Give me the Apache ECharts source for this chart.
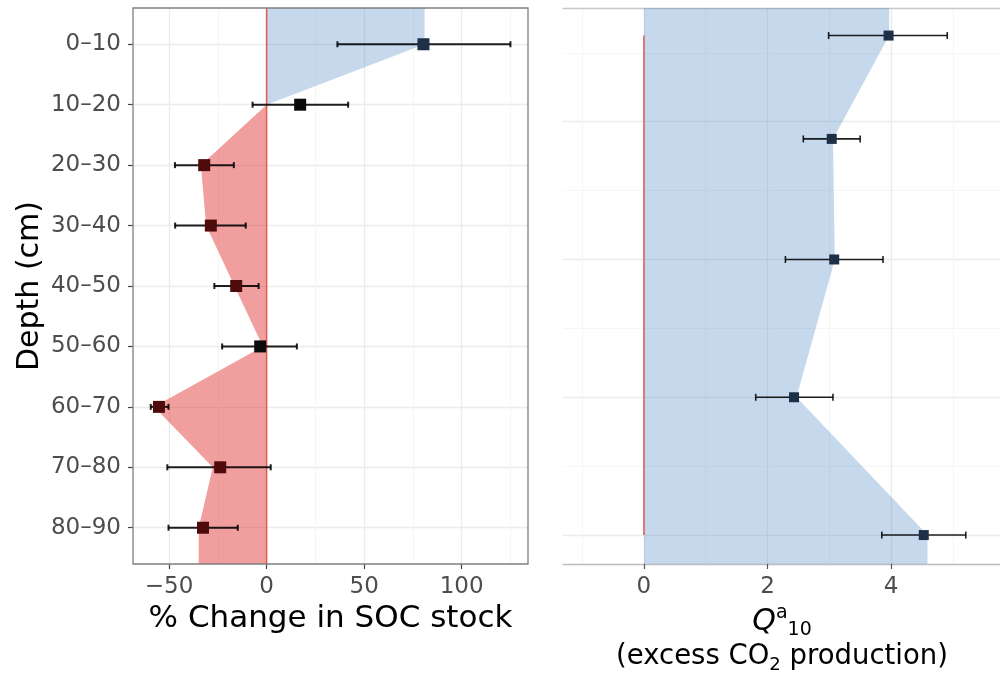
<!DOCTYPE html>
<html>
<head>
<meta charset="utf-8">
<title>SOC change and Q10 by depth</title>
<script src="https://cdn.jsdelivr.net/npm/echarts@6/dist/echarts.min.js"></script>
<style>
html, body { margin: 0; padding: 0; background: #fff; }
#chart { width: 1000px; height: 674px; }
</style>
</head>
<body>
<div id="chart"></div>
<script>
//*************** data *************************
var depthLabels = ['0–10', '10–20', '20–30', '30–40', '40–50', '50–60', '60–70', '70–80', '80–90'];
var depthIdx = depthLabels.map(function (d, i) { return i; });

// left panel: % change in SOC stock
var socChange = [80.4, 17.2, -32.0, -28.6, -15.6, -3.3, -55.2, -23.8, -32.6];
var socLow = [36.3, -7.2, -47.0, -46.9, -26.8, -22.8, -59.4, -50.9, -50.3];
var socHigh = [125.0, 41.8, -16.8, -10.7, -4.1, 15.5, -50.3, 2.1, -14.8];
var socBand = [81.0, 0, -33.7, -31.0, -16.5, -1.9, -57.7, -27.6, -34.8];
var socTicks = [-50, 0, 50, 100];
var socMinorTicks = [-25, 25, 75, 125];

// right panel: Q10 (excess CO2 production)
var q10Pos = [-0.25, 1.25, 3, 5, 7];
var q10 = [3.96, 3.04, 3.08, 2.43, 4.53];
var q10Low = [2.99, 2.58, 2.29, 1.81, 3.85];
var q10High = [4.91, 3.50, 3.87, 3.06, 5.21];
var q10Band = [3.97, 3.06, 3.09, 2.47, 4.59];
var q10Ticks = [0, 2, 4];
var q10MinorTicks = [-1, 1, 3, 5];
var q10Grid = [1, 3, 5, 7];
var q10MinorGrid = [0, 2, 4, 6];

//*************** axis ranges ******************
var socX = [-68.5, 134];
var socY = [-0.6, 8.6];
var q10X = [-1.31, 5.78];
var q10Y = [-0.65, 7.42];

var FONT = 'DejaVu Sans, Liberation Sans, sans-serif';
var BLUE_FILL = 'rgba(89,144,201,0.35)';
var RED_FILL = 'rgba(225,62,62,0.5)';
var ZERO_LINE = '#e35a50';
var MAJOR = '#ebebeb';
var MINOR = '#f5f5f5';

//*************** helpers **********************
// split the band outline into runs of one sign, closed back onto x = 0
function bandRuns(band, pos, lo, hi) {
    var v = [[band[0], lo]];
    for (var i = 0; i < band.length; i++) v.push([band[i], pos[i]]);
    v.push([band[band.length - 1], hi]);
    var runs = [];
    var cur = [[0, lo]];
    for (var k = 0; k < v.length; k++) {
        var a = v[k];
        if (k > 0) {
            var b = v[k - 1];
            if (b[0] * a[0] < 0) {
                var t = b[0] / (b[0] - a[0]);
                var yc = b[1] + t * (a[1] - b[1]);
                cur.push([0, yc]);
                runs.push(cur);
                cur = [[0, yc]];
            }
        }
        cur.push(a);
        if (a[0] === 0 && k > 0 && k < v.length - 1) {
            runs.push(cur);
            cur = [[0, a[1]]];
        }
    }
    cur.push([0, hi]);
    runs.push(cur);
    return runs;
}

function bandRender(band, pos, lo, hi) {
    var runs = bandRuns(band, pos, lo, hi);
    return function (params, api) {
        if (params.dataIndex !== 0) return null;
        var kids = runs.map(function (run) {
            var s = 0;
            run.forEach(function (p) { s += p[0]; });
            return {
                type: 'polygon',
                shape: { points: run.map(function (p) { return api.coord(p); }) },
                style: { fill: s >= 0 ? BLUE_FILL : RED_FILL }
            };
        });
        return { type: 'group', children: kids };
    };
}

function errorBarRender(cap, width) {
    return function (params, api) {
        var y = api.value(2);
        var a = api.coord([api.value(0), y]);
        var b = api.coord([api.value(1), y]);
        var st = { stroke: 'rgba(0,0,0,0.88)', lineWidth: width };
        return {
            type: 'group',
            children: [
                { type: 'line', shape: { x1: a[0], y1: a[1], x2: b[0], y2: b[1] }, style: st },
                { type: 'line', shape: { x1: a[0], y1: a[1] - cap, x2: a[0], y2: a[1] + cap }, style: st },
                { type: 'line', shape: { x1: b[0], y1: b[1] - cap, x2: b[0], y2: b[1] + cap }, style: st }
            ]
        };
    };
}

function pointColor(vals, band) {
    return function (p) {
        var v = vals[p.dataIndex], r = band[p.dataIndex];
        if (v * r > 0 && Math.abs(v) <= Math.abs(r) + 1) {
            return v > 0 ? '#1d3047' : '#4f0b0b';
        }
        return '#0b0b0b';
    };
}

function minus(v) { return String(v).replace('-', '\u2212'); }

//*************** chart ************************
var chart_dom = document.getElementById('chart');
var chart = echarts.init(chart_dom, null, { renderer: 'canvas' });

var labelStyle = { fontSize: 23, color: '#4d4d4d', fontFamily: FONT };

var option = {
    animation: false,
    backgroundColor: '#fff',
    grid: [
        { left: 133, top: 8, width: 395, height: 556, show: true, z: 5, outerBoundsMode: 'none',
          borderColor: '#7f7f7f', borderWidth: 1.3, backgroundColor: 'rgba(0,0,0,0)' },
        { left: 563, top: 8, width: 438, height: 556, show: false, outerBoundsMode: 'none' }
    ],
    xAxis: [
        {
            gridIndex: 0, type: 'value', min: socX[0], max: socX[1], position: 'bottom',
            axisLine: { show: false, onZero: false },
            axisTick: { show: true, length: 5, customValues: socTicks, lineStyle: { color: '#444', width: 1.2 } },
            axisLabel: Object.assign({ customValues: socTicks, margin: 12, formatter: minus }, labelStyle),
            splitLine: { show: true, lineStyle: { color: MAJOR, width: 1.3 } },
            name: '% Change in SOC stock', nameLocation: 'middle', nameGap: 38,
            nameTextStyle: { fontSize: 31, color: '#000', fontFamily: FONT }
        },
        {
            gridIndex: 0, type: 'value', min: socX[0], max: socX[1], position: 'top',
            axisLine: { show: false, onZero: false },
            axisTick: { show: false, customValues: socMinorTicks },
            axisLabel: { show: false },
            splitLine: { show: true, lineStyle: { color: MINOR, width: 1 } }
        },
        {
            gridIndex: 1, type: 'value', min: q10X[0], max: q10X[1], position: 'bottom',
            axisLine: { show: true, onZero: false, lineStyle: { color: '#bdbdbd', width: 1.3 } },
            axisTick: { show: true, length: 5, customValues: q10Ticks, lineStyle: { color: '#555', width: 1.2 } },
            axisLabel: Object.assign({ customValues: q10Ticks, margin: 12 }, labelStyle),
            splitLine: { show: true, lineStyle: { color: MAJOR, width: 1.3 } },
            name: '{q|Q}{sup|a}{sub|10}\n{t|(excess CO}{tsub|2}{t| production)}',
            nameLocation: 'middle', nameGap: 40,
            nameTextStyle: {
                color: '#000', fontFamily: FONT, align: 'center',
                rich: {
                    q: { fontSize: 30, fontStyle: 'italic', color: '#000', fontFamily: FONT, lineHeight: 36 },
                    sup: { fontSize: 19, color: '#000', fontFamily: FONT, verticalAlign: 'top', lineHeight: 20 },
                    sub: { fontSize: 19, color: '#000', fontFamily: FONT, verticalAlign: 'bottom', lineHeight: 30 },
                    t: { fontSize: 27.5, color: '#000', fontFamily: FONT, lineHeight: 34 },
                    tsub: { fontSize: 18, color: '#000', fontFamily: FONT, verticalAlign: 'bottom', lineHeight: 24 }
                }
            }
        },
        {
            gridIndex: 1, type: 'value', min: q10X[0], max: q10X[1], position: 'top',
            axisLine: { show: true, onZero: false, lineStyle: { color: '#c8c8c8', width: 1.3 } },
            axisTick: { show: false, customValues: q10MinorTicks },
            axisLabel: { show: false },
            splitLine: { show: true, lineStyle: { color: MINOR, width: 1 } }
        }
    ],
    yAxis: [
        {
            gridIndex: 0, type: 'value', min: socY[0], max: socY[1], inverse: true, position: 'left',
            axisLine: { show: false, onZero: false },
            axisTick: { show: true, length: 5, customValues: depthIdx, lineStyle: { color: '#444', width: 1.2 } },
            axisLabel: Object.assign({
                customValues: depthIdx, margin: 12,
                formatter: function (v) { return depthLabels[v]; }
            }, labelStyle),
            splitLine: { show: true, lineStyle: { color: MAJOR, width: 1.3 } },
            name: 'Depth (cm)', nameLocation: 'middle', nameGap: 88, nameRotate: 90,
            nameTextStyle: { fontSize: 30, color: '#000', fontFamily: FONT }
        },
        {
            gridIndex: 1, type: 'value', min: q10Y[0], max: q10Y[1], inverse: true, position: 'left',
            axisLine: { show: false, onZero: false },
            axisTick: { show: false, customValues: q10Grid },
            axisLabel: { show: false },
            splitLine: { show: true, lineStyle: { color: MAJOR, width: 1.3 } }
        },
        {
            gridIndex: 1, type: 'value', min: q10Y[0], max: q10Y[1], inverse: true, position: 'right',
            axisLine: { show: false, onZero: false },
            axisTick: { show: false, customValues: q10MinorGrid },
            axisLabel: { show: false },
            splitLine: { show: true, lineStyle: { color: MINOR, width: 1 } }
        }
    ],
    series: [
        //---------- left panel ----------
        {
            type: 'custom', xAxisIndex: 0, yAxisIndex: 0, z: 1, clip: true, silent: true,
            renderItem: bandRender(socBand, depthIdx, socY[0], socY[1]),
            data: socBand.map(function (v, i) { return [v, i]; })
        },
        {
            type: 'line', xAxisIndex: 0, yAxisIndex: 0, z: 2, symbol: 'none', silent: true,
            lineStyle: { color: ZERO_LINE, width: 1.5 },
            data: [[0, socY[0]], [0, socY[1]]]
        },
        {
            type: 'custom', xAxisIndex: 0, yAxisIndex: 0, z: 3,
            renderItem: errorBarRender(3, 2),
            encode: { x: [0, 1], y: 2 },
            data: socLow.map(function (lo, i) { return [lo, socHigh[i], i]; })
        },
        {
            type: 'scatter', xAxisIndex: 0, yAxisIndex: 0, z: 4,
            symbol: 'rect', symbolSize: 12,
            itemStyle: { color: pointColor(socChange, socBand), opacity: 1 },
            data: socChange.map(function (v, i) { return [v, i]; })
        },
        //---------- right panel ----------
        {
            type: 'custom', xAxisIndex: 2, yAxisIndex: 1, z: 1, clip: true, silent: true,
            renderItem: bandRender(q10Band, q10Pos, q10Y[0], q10Y[1]),
            data: q10Band.map(function (v, i) { return [v, q10Pos[i]]; })
        },
        {
            type: 'line', xAxisIndex: 2, yAxisIndex: 1, z: 2, symbol: 'none', silent: true,
            lineStyle: { color: ZERO_LINE, width: 1.5 },
            data: [[0, q10Pos[0]], [0, q10Pos[q10Pos.length - 1]]]
        },
        {
            type: 'custom', xAxisIndex: 2, yAxisIndex: 1, z: 3,
            renderItem: errorBarRender(3.5, 1.6),
            encode: { x: [0, 1], y: 2 },
            data: q10Low.map(function (lo, i) { return [lo, q10High[i], q10Pos[i]]; })
        },
        {
            type: 'scatter', xAxisIndex: 2, yAxisIndex: 1, z: 4,
            symbol: 'rect', symbolSize: 10,
            itemStyle: { color: pointColor(q10, q10Band), opacity: 1 },
            data: q10.map(function (v, i) { return [v, q10Pos[i]]; })
        }
    ]
};

chart.setOption(option);
</script>
</body>
</html>
